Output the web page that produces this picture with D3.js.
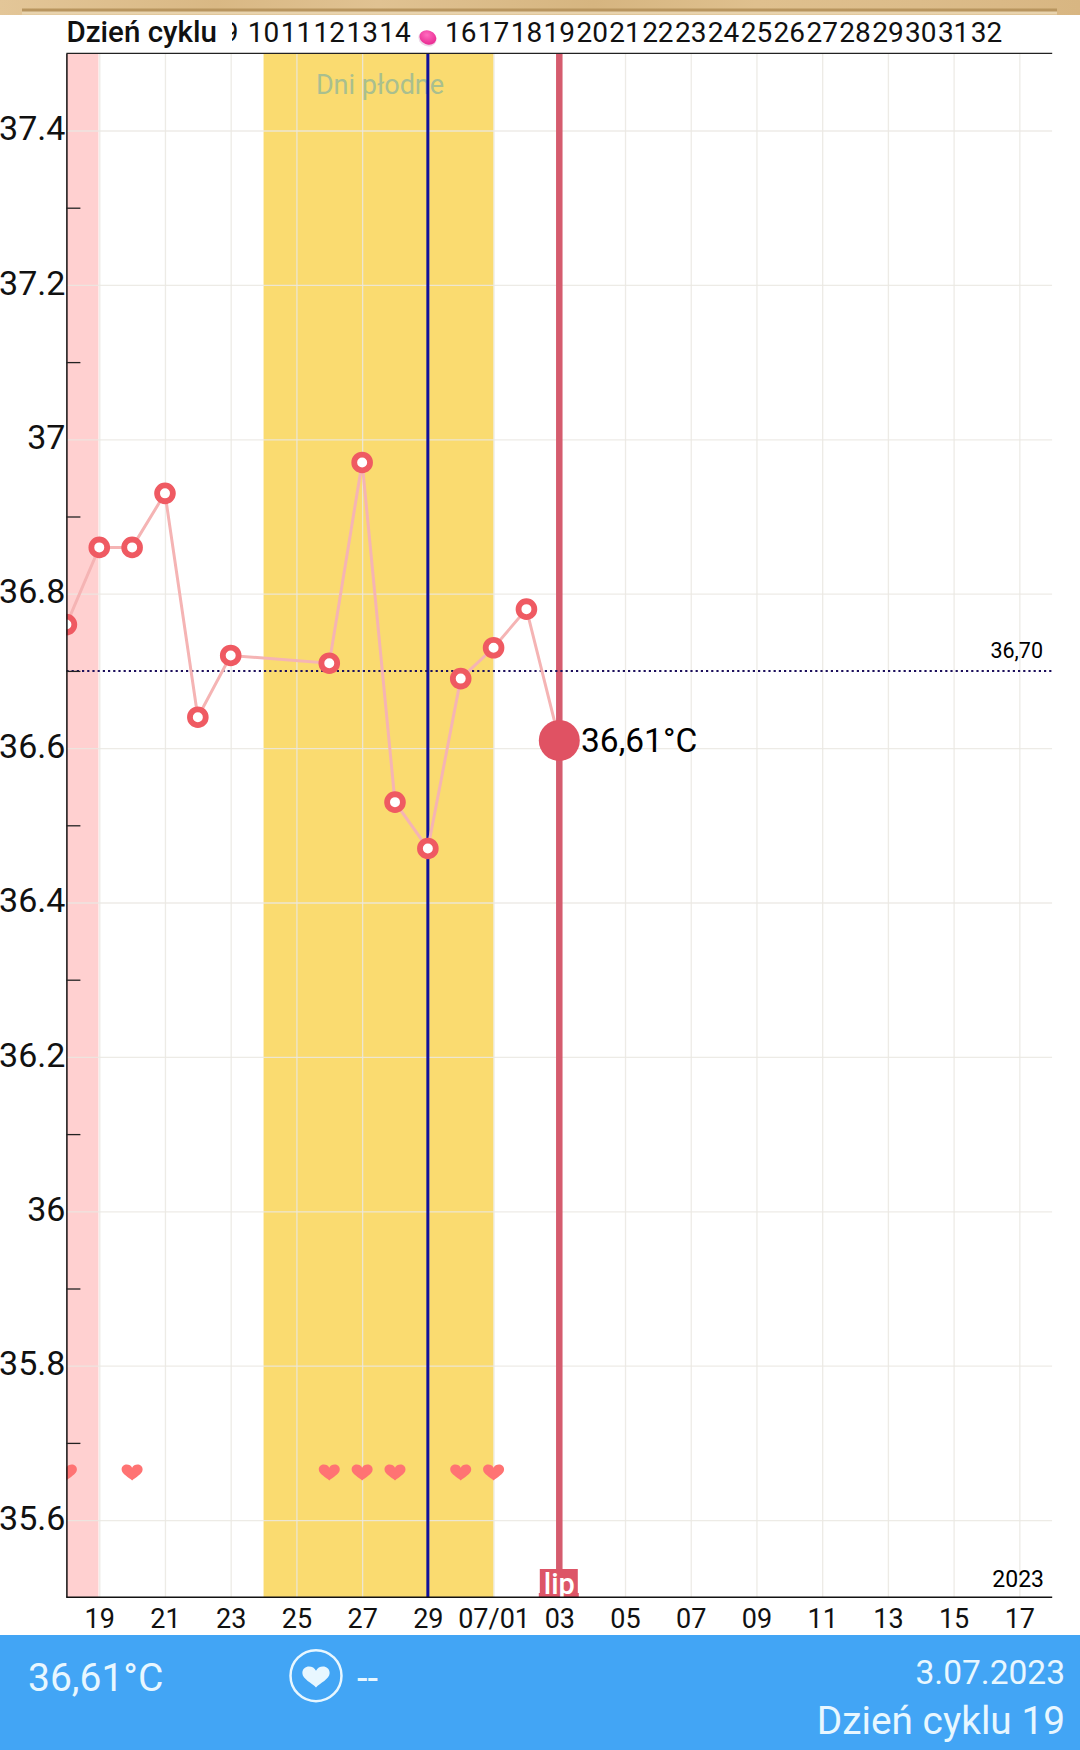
<!DOCTYPE html>
<html>
<head>
<meta charset="utf-8">
<script src="https://cdn.jsdelivr.net/npm/d3@7"></script>
<style>
html, body { margin: 0; padding: 0; background: #fff; }
text { font-family: Roboto, sans-serif; }
</style>
</head>
<body>
<div id="chart-area"></div>
<script>
// temperature readings (dates with no reading are simply missing)
var tempDates = ["2023-06-18","2023-06-19","2023-06-20","2023-06-21","2023-06-22","2023-06-23","2023-06-26",
	"2023-06-27","2023-06-28","2023-06-29","2023-06-30","2023-07-01","2023-07-02","2023-07-03"];
var tempValues = [36.76,36.86,36.86,36.93,36.64,36.72,36.71,36.97,36.53,36.47,36.69,36.73,36.78,36.61];

var heartDates = ["2023-06-18","2023-06-20","2023-06-26","2023-06-27","2023-06-28","2023-06-30","2023-07-01"];

// bottom axis
var dateTicks = ["2023-06-19","2023-06-21","2023-06-23","2023-06-25","2023-06-27","2023-06-29","2023-07-01",
	"2023-07-03","2023-07-05","2023-07-07","2023-07-09","2023-07-11","2023-07-13","2023-07-15","2023-07-17"];
var dateLabels = ["19","21","23","25","27","29","07/01","03","05","07","09","11","13","15","17"];

// top axis, cycle day 15 is hidden behind the pink dot
var cycleDays = [9,10,11,12,13,14,16,17,18,19,20,21,22,23,24,25,26,27,28,29,30,31,32];
var cycleDay19 = "2023-07-03";

var tempMajor = [35.6,35.8,36,36.2,36.4,36.6,36.8,37,37.2,37.4];
var tempMinor = [35.7,35.9,36.1,36.3,36.5,36.7,36.9,37.1,37.3];

var coverLine = 36.70;
var selectedDate = "2023-07-03", selectedTemp = 36.61;
var ovulationDate = "2023-06-29";
var periodBand = ["2023-06-18","2023-06-19"];
var fertileBand = ["2023-06-24","2023-07-01"];

var width = 1080, height = 1750;
var left = 66.4, right = 1052.2, top_ = 53.3, bottom = 1597.3;

var parse = d3.utcParse("%Y-%m-%d");

var x = d3.scaleUtc().domain([parse("2023-06-18"), parse("2023-07-18")]).range([left, right]);
var y = d3.scaleLinear().domain([35.5, 37.5]).range([bottom, top_]);

var svg = d3.select("#chart-area").append("svg")
	.attr("width", width)
	.attr("height", height)
	.style("display", "block");

var defs = svg.append("defs");
defs.append("clipPath").attr("id", "plot-clip").append("rect")
	.attr("x", left).attr("y", top_).attr("width", right - left).attr("height", bottom - top_);

var wood = defs.append("linearGradient").attr("id", "wood");
[[0,"#e3c698"],[0.2,"#d9b884"],[0.35,"#e0c292"],[0.55,"#d6b580"],[0.7,"#dfc08e"],[0.85,"#dcbc8a"],[1,"#d8b682"]].forEach(function(s){
	wood.append("stop").attr("offset", s[0]).attr("stop-color", s[1]);
});
var pink = defs.append("radialGradient").attr("id", "pink").attr("cx", 0.4).attr("cy", 0.35).attr("r", 0.7);
pink.append("stop").attr("offset", 0).attr("stop-color", "#ff6cc0");
pink.append("stop").attr("offset", 1).attr("stop-color", "#e8278f");

// wooden strip at the very top
svg.append("rect").attr("x", 0).attr("y", 0).attr("width", width).attr("height", 15).attr("fill", "url(#wood)");
svg.append("rect").attr("x", 22).attr("y", 11).attr("width", 1035).attr("height", 3.5).attr("fill", "#e8d3ae");
svg.append("rect").attr("x", 22).attr("y", 8.5).attr("width", 1035).attr("height", 3).attr("fill", "#b8955f");

// bands
var plot = svg.append("g").attr("clip-path", "url(#plot-clip)");
plot.append("rect")
	.attr("x", x(parse(periodBand[0]))).attr("y", top_)
	.attr("width", x(parse(periodBand[1])) - x(parse(periodBand[0])) - 0.8).attr("height", bottom - top_)
	.attr("fill", "#ffd0d0");
plot.append("rect")
	.attr("x", x(parse(fertileBand[0]))).attr("y", top_)
	.attr("width", x(parse(fertileBand[1])) - x(parse(fertileBand[0]))).attr("height", bottom - top_)
	.attr("fill", "#fadb70");

// grid
var gridColor = "rgba(234,232,226,0.85)";
var xGrid = plot.append("g")
	.attr("transform", "translate(0," + top_ + ")")
	.call(d3.axisBottom(x).tickValues(dateTicks.map(parse)).tickSize(bottom - top_).tickFormat(""));
xGrid.select(".domain").remove();
xGrid.selectAll("line").attr("stroke", gridColor).attr("stroke-width", 1.3);

var yGrid = plot.append("g")
	.attr("transform", "translate(" + left + ",0)")
	.call(d3.axisRight(y).tickValues(tempMajor).tickSize(right - left).tickFormat(""));
yGrid.select(".domain").remove();
yGrid.selectAll("line").attr("stroke", gridColor).attr("stroke-width", 1.3);

plot.append("text")
	.attr("x", 380).attr("y", 94)
	.attr("text-anchor", "middle")
	.attr("font-size", 27)
	.attr("fill", "#a9bf8f")
	.text("Dni płodne");

// ovulation line
plot.append("line")
	.attr("x1", x(parse(ovulationDate))).attr("x2", x(parse(ovulationDate)))
	.attr("y1", top_).attr("y2", bottom)
	.attr("stroke", "#10109c").attr("stroke-width", 3);

// selected day
plot.append("line")
	.attr("x1", x(parse(selectedDate))).attr("x2", x(parse(selectedDate)))
	.attr("y1", top_).attr("y2", bottom)
	.attr("stroke", "#d55c6e").attr("stroke-width", 6.5);

// cover line
plot.append("line")
	.attr("x1", left).attr("x2", right)
	.attr("y1", y(coverLine)).attr("y2", y(coverLine))
	.attr("stroke", "#1c0f5c").attr("stroke-width", 2).attr("stroke-dasharray", "2.2,3");
svg.append("text")
	.attr("x", 1043).attr("y", 658)
	.attr("text-anchor", "end").attr("font-size", 21.5).attr("fill", "#000")
	.text("36,70");

// line
var temps = tempDates.map(function(d, i){ return { date: parse(d), value: tempValues[i] }; });
var line = d3.line()
	.x(function(d){ return x(d.date); })
	.y(function(d){ return y(d.value); });

plot.append("path")
	.datum(temps)
	.attr("d", line)
	.attr("fill", "none")
	.attr("stroke", "#f5b4b4")
	.attr("stroke-width", 3);

plot.selectAll("circle.temp")
	.data(temps.filter(function(d){ return +d.date != +parse(selectedDate); }))
	.enter()
	.append("circle")
		.attr("class", "temp")
		.attr("cx", function(d){ return x(d.date); })
		.attr("cy", function(d){ return y(d.value); })
		.attr("r", 7.9)
		.attr("fill", "#fff")
		.attr("stroke", "#ef5a62")
		.attr("stroke-width", 5.8);

// hearts
var heartPath = "M0,8 C-3,5 -10.5,1.5 -10.5,-3 C-10.5,-6.2 -8,-8 -5.4,-8 C-3,-8 -1,-6.8 0,-4.8 C1,-6.8 3,-8 5.4,-8 C8,-8 10.5,-6.2 10.5,-3 C10.5,1.5 3,5 0,8 Z";
plot.selectAll("path.heart")
	.data(heartDates)
	.enter()
	.append("path")
		.attr("class", "heart")
		.attr("d", heartPath)
		.attr("transform", function(d){ return "translate(" + x(parse(d)) + ",1472.5)"; })
		.attr("fill", "#ff7373");

// selected point
svg.append("circle")
	.attr("cx", x(parse(selectedDate)))
	.attr("cy", y(selectedTemp))
	.attr("r", 20.5)
	.attr("fill", "#e05263");
svg.append("text")
	.attr("x", 581).attr("y", y(selectedTemp) + 11.5)
	.attr("font-size", 33.5).attr("fill", "#000")
	.text("36,61°C");

// month flag, the p of "lip" gets cut by the axis
var flagX = x(parse(selectedDate));
var flag = svg.append("g").attr("clip-path", "url(#plot-clip)");
flag.append("path")
	.attr("d", "M" + (flagX - 19.5) + "," + 1569 + "h38v24h1v4.5h-40v-4.5h1z")
	.attr("fill", "#dd5567");
flag.append("text")
	.attr("x", flagX).attr("y", 1594)
	.attr("text-anchor", "middle").attr("font-size", 29).attr("font-weight", 500).attr("fill", "#fff")
	.text("lip");

svg.append("text")
	.attr("x", 1044).attr("y", 1586.7)
	.attr("text-anchor", "end").attr("font-size", 23).attr("fill", "#000")
	.text("2023");

// frame
svg.append("line").attr("x1", left).attr("x2", right).attr("y1", top_).attr("y2", top_).attr("stroke", "#222").attr("stroke-width", 1.3);
svg.append("line").attr("x1", left).attr("x2", right).attr("y1", bottom).attr("y2", bottom).attr("stroke", "#111").attr("stroke-width", 1.5);

// y axis with labels
var yAxis = svg.append("g")
	.attr("transform", "translate(" + left + ",0)")
	.call(d3.axisLeft(y).tickValues(tempMajor).tickSize(0).tickPadding(1).tickFormat(function(d){ return String(d); }));
yAxis.select(".domain").attr("stroke", "#111").attr("stroke-width", 1.5);
yAxis.selectAll("text")
	.attr("font-size", 34).attr("fill", "#111").attr("dy", "0.27em")
	.style("font-family", "Roboto, sans-serif");

var yMinor = svg.append("g")
	.attr("transform", "translate(" + left + ",0)")
	.call(d3.axisRight(y).tickValues(tempMinor).tickSize(14).tickFormat(""));
yMinor.select(".domain").remove();
yMinor.selectAll("line").attr("stroke", "#222").attr("stroke-width", 1.3);

// bottom labels
var xAxis = svg.append("g")
	.attr("transform", "translate(0," + bottom + ")")
	.call(d3.axisBottom(x).tickValues(dateTicks.map(parse)).tickSize(0).tickPadding(12)
		.tickFormat(function(d, i){ return dateLabels[i]; }));
xAxis.select(".domain").remove();
xAxis.selectAll("text")
	.attr("font-size", 27).attr("fill", "#111")
	.style("font-family", "Roboto, sans-serif");

// top labels: cycle day n sits n-19 days away from the selected day
var cycleX = function(n){ return x(d3.utcDay.offset(parse(cycleDay19), n - 19)); };
svg.selectAll("text.cycle")
	.data(cycleDays)
	.enter()
	.append("text")
		.attr("class", "cycle")
		.attr("x", cycleX)
		.attr("y", 41.7)
		.attr("text-anchor", "middle")
		.attr("font-size", 28)
		.attr("fill", "#111")
		.text(function(d){ return d; });

svg.append("rect").attr("x", 60).attr("y", 16).attr("width", 172).attr("height", 35).attr("fill", "#fff");
svg.append("text")
	.attr("x", 66.5).attr("y", 41.7)
	.attr("font-size", 29.5).attr("font-weight", 500).attr("fill", "#111")
	.text("Dzień cyklu");

var dotG = svg.append("g").attr("transform", "translate(" + cycleX(15) + ",37.5) rotate(20)");
dotG.append("ellipse").attr("cx", 0).attr("cy", 1.2).attr("rx", 9.3).attr("ry", 7.6).attr("fill", "#ecd6e6");
dotG.append("ellipse").attr("rx", 8.6).attr("ry", 7).attr("fill", "url(#pink)");

// footer
svg.append("rect").attr("x", 0).attr("y", 1635).attr("width", width).attr("height", 115).attr("fill", "#42a5f5");
var footColor = "#e8f7ff";
svg.append("text").attr("x", 28).attr("y", 1690.5).attr("font-size", 39).attr("fill", footColor).text("36,61°C");
svg.append("circle").attr("cx", 316).attr("cy", 1675.7).attr("r", 25.5)
	.attr("fill", "none").attr("stroke", footColor).attr("stroke-width", 2.5);
svg.append("path").attr("d", heartPath)
	.attr("transform", "translate(316,1677) scale(1.3)")
	.attr("fill", footColor);
svg.append("text").attr("x", 357).attr("y", 1690.5).attr("font-size", 38).attr("fill", footColor).text("--");
svg.append("text").attr("x", 1065).attr("y", 1684).attr("text-anchor", "end").attr("font-size", 33.5).attr("fill", footColor).text("3.07.2023");
svg.append("text").attr("x", 1065).attr("y", 1734).attr("text-anchor", "end").attr("font-size", 38.8).attr("fill", footColor).text("Dzień cyklu 19");
</script>
</body>
</html>
